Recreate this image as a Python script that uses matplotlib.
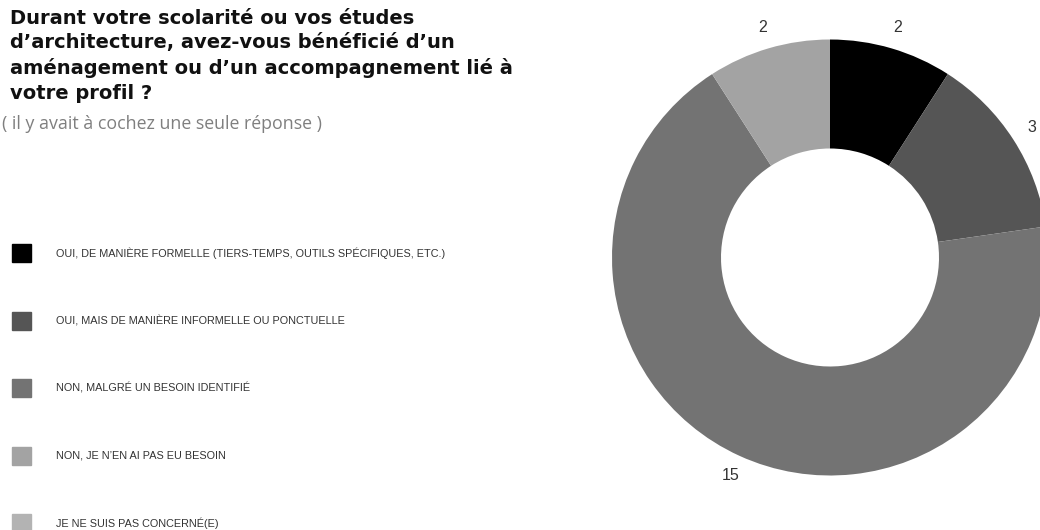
import matplotlib.pyplot as plt
from matplotlib.patches import Rectangle

categories = [
    "OUI, DE MANIÈRE FORMELLE (TIERS-TEMPS, OUTILS SPÉCIFIQUES, ETC.)",
    "OUI, MAIS DE MANIÈRE INFORMELLE OU PONCTUELLE",
    "NON, MALGRÉ UN BESOIN IDENTIFIÉ",
    "NON, JE N’EN AI PAS EU BESOIN",
    "JE NE SUIS PAS CONCERNÉ(E)",
]
counts = [2, 3, 15, 2, 0]
colors = ["#000000", "#555555", "#737373", "#a3a3a3", "#b3b3b3"]

title = ("Durant votre scolarité ou vos études\n"
         "d’architecture, avez-vous bénéficié d’un\n"
         "aménagement ou d’un accompagnement lié à\n"
         "votre profil ?")
subtitle = "( il y avait à cochez une seule réponse )"

W, H = 1040, 530
fig = plt.figure(figsize=(W / 100, H / 100), dpi=100)

fig.text(10 / W, 1 - 9 / H, title, fontsize=14, fontweight="bold",
         family="DejaVu Sans", color="#111111", va="top", ha="left",
         linespacing=1.36)
fig.text(2 / W, 1 - 124 / H, subtitle, fontsize=12.8, family="Open Sans",
         color="#7f7f7f", va="center", ha="left")

# legend drawn by hand: square swatch + uppercase label
for i, (lab, col) in enumerate(zip(categories, colors)):
    yc = 253 + i * 67.5
    fig.add_artist(Rectangle((12 / W, 1 - (yc + 9) / H), 19 / W, 18 / H,
                             transform=fig.transFigure, color=col))
    fig.text(56 / W, 1 - yc / H, lab, fontsize=7.8, family="Liberation Sans",
             color="#333333", va="center", ha="left")

# donut
R = 218
cx, cy = 830, H - 257.5
span = 2.5 * R
ax = fig.add_axes([(cx - span / 2) / W, (cy - span / 2) / H, span / W, span / H])
labels = [str(v) if v else "" for v in counts]
wedges, texts = ax.pie(counts, colors=colors, labels=labels, startangle=90,
                       counterclock=False, radius=1, labeldistance=1.1,
                       wedgeprops=dict(width=0.5, linewidth=0),
                       textprops=dict(fontsize=11.5, family="Liberation Sans",
                                      color="#333333", ha="center", va="center"))
ax.set_xlim(-1.25, 1.25)
ax.set_ylim(-1.25, 1.25)
ax.set_aspect("equal")
ax.axis("off")

fig.savefig("out.png", dpi=100)
